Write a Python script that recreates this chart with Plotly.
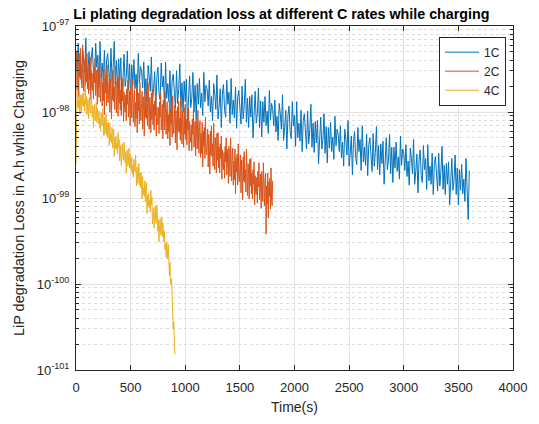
import plotly.graph_objects as go

# Sampling grids (seconds)
time_1c = list(range(0, 3601, 10))
time_2c = list(range(0, 1801, 5))
time_4c = list(range(0, 906, 5))

# Li plating loss, stored as log10 of the loss in A.h
log_loss_1c = [
    -97.30, -97.50, -97.20, -97.57, -97.39, -97.67, -97.24, -97.36, -97.54, -97.14,
    -97.65, -97.50, -97.30, -97.75, -97.36, -97.25, -97.55, -97.63, -97.20, -97.48,
    -97.34, -97.70, -97.18, -97.60, -97.43, -97.64, -97.28, -97.76, -97.40, -97.32,
    -97.56, -97.70, -97.26, -97.64, -97.48, -97.18, -97.68, -97.40, -97.74, -97.38,
    -97.63, -97.37, -97.87, -97.49, -97.33, -97.70, -97.59, -97.29, -97.75, -97.44,
    -97.86, -97.45, -97.69, -97.39, -97.73, -97.56, -97.82, -97.32, -97.66, -97.47,
    -97.52, -97.72, -97.42, -97.79, -97.61, -97.89, -97.46, -97.58, -97.76, -97.36,
    -97.88, -97.73, -97.53, -97.98, -97.59, -97.48, -97.78, -97.86, -97.43, -97.71,
    -97.58, -97.94, -97.42, -97.84, -97.67, -97.88, -97.52, -98.00, -97.64, -97.56,
    -97.82, -97.96, -97.52, -97.90, -97.74, -97.44, -97.94, -97.66, -98.00, -97.64,
    -97.88, -97.62, -98.12, -97.74, -97.58, -97.95, -97.84, -97.54, -98.00, -97.69,
    -98.08, -97.67, -97.91, -97.61, -97.95, -97.78, -98.04, -97.54, -97.88, -97.69,
    -97.73, -97.93, -97.63, -98.00, -97.82, -98.10, -97.67, -97.79, -97.97, -97.57,
    -98.08, -97.93, -97.73, -98.18, -97.79, -97.68, -97.98, -98.06, -97.63, -97.91,
    -97.77, -98.13, -97.61, -98.03, -97.86, -98.07, -97.71, -98.19, -97.83, -97.75,
    -98.00, -98.14, -97.70, -98.08, -97.92, -97.62, -98.12, -97.84, -98.18, -97.82,
    -98.06, -97.80, -98.30, -97.92, -97.76, -98.13, -98.02, -97.72, -98.18, -97.87,
    -98.29, -97.88, -98.12, -97.82, -98.16, -97.99, -98.25, -97.75, -98.09, -97.90,
    -97.96, -98.16, -97.86, -98.23, -98.05, -98.33, -97.90, -98.02, -98.20, -97.80,
    -98.33, -98.18, -97.98, -98.43, -98.04, -97.93, -98.23, -98.31, -97.88, -98.16,
    -98.04, -98.40, -97.88, -98.30, -98.13, -98.34, -97.98, -98.46, -98.10, -98.02,
    -98.29, -98.43, -97.99, -98.37, -98.21, -97.91, -98.41, -98.13, -98.47, -98.11,
    -98.36, -98.10, -98.60, -98.22, -98.06, -98.43, -98.32, -98.02, -98.48, -98.17,
    -98.59, -98.18, -98.42, -98.12, -98.46, -98.29, -98.55, -98.05, -98.39, -98.20,
    -98.26, -98.46, -98.16, -98.53, -98.35, -98.63, -98.20, -98.32, -98.50, -98.10,
    -98.63, -98.48, -98.28, -98.73, -98.34, -98.23, -98.53, -98.61, -98.18, -98.46,
    -98.32, -98.68, -98.16, -98.58, -98.41, -98.62, -98.26, -98.74, -98.38, -98.30,
    -98.55, -98.69, -98.25, -98.63, -98.47, -98.17, -98.67, -98.39, -98.73, -98.37,
    -98.60, -98.34, -98.84, -98.46, -98.30, -98.67, -98.56, -98.26, -98.72, -98.41,
    -98.82, -98.41, -98.65, -98.35, -98.69, -98.52, -98.78, -98.28, -98.62, -98.43,
    -98.48, -98.68, -98.38, -98.75, -98.57, -98.85, -98.42, -98.54, -98.72, -98.32,
    -98.84, -98.69, -98.49, -98.94, -98.55, -98.44, -98.74, -98.82, -98.39, -98.67,
    -98.54, -98.90, -98.38, -98.80, -98.63, -98.84, -98.48, -98.96, -98.60, -98.52,
    -98.78, -98.92, -98.48, -98.86, -98.70, -98.40, -98.90, -98.62, -98.96, -98.60,
    -98.84, -98.58, -99.08, -98.70, -98.54, -98.91, -98.80, -98.50, -98.96, -98.65,
    -99.08, -98.67, -98.91, -98.61, -98.95, -98.78, -99.04, -98.54, -98.88, -99.25,
    -98.68,
]

log_loss_2c = [
    -97.44, -97.30, -97.74, -97.36, -97.52, -97.82, -97.32, -97.60, -97.26, -97.62,
    -97.46, -97.72, -97.22, -97.60, -97.76, -97.39, -97.50, -97.80, -97.34, -97.65,
    -97.32, -97.73, -97.49, -97.79, -97.45, -97.62, -97.36, -97.86, -97.52, -97.71,
    -97.75, -97.55, -97.85, -97.48, -97.66, -97.38, -97.81, -97.69, -97.51, -97.91,
    -97.48, -97.63, -97.83, -97.38, -97.77, -97.88, -97.58, -97.50, -97.93, -97.65,
    -97.87, -97.51, -98.03, -97.61, -97.78, -97.57, -97.93, -97.45, -97.81, -97.89,
    -97.70, -97.56, -98.00, -97.62, -97.78, -98.08, -97.58, -97.86, -97.52, -97.88,
    -97.71, -97.97, -97.47, -97.85, -98.01, -97.64, -97.75, -98.05, -97.59, -97.90,
    -97.57, -97.98, -97.74, -98.04, -97.70, -97.87, -97.61, -98.11, -97.77, -97.96,
    -98.00, -97.80, -98.10, -97.73, -97.91, -97.63, -98.06, -97.94, -97.76, -98.16,
    -97.72, -97.87, -98.07, -97.62, -98.01, -98.12, -97.82, -97.74, -98.17, -97.89,
    -98.08, -97.72, -98.24, -97.82, -97.99, -97.78, -98.14, -97.66, -98.02, -98.10,
    -97.90, -97.76, -98.20, -97.82, -97.98, -98.28, -97.78, -98.06, -97.72, -98.08,
    -97.90, -98.16, -97.66, -98.04, -98.20, -97.83, -97.94, -98.24, -97.78, -98.09,
    -97.74, -98.15, -97.91, -98.21, -97.87, -98.04, -97.78, -98.28, -97.94, -98.13,
    -98.15, -97.95, -98.25, -97.88, -98.06, -97.78, -98.21, -98.09, -97.91, -98.31,
    -97.86, -98.01, -98.21, -97.76, -98.15, -98.26, -97.96, -97.88, -98.31, -98.03,
    -98.23, -97.87, -98.39, -97.97, -98.14, -97.93, -98.29, -97.81, -98.17, -98.25,
    -98.06, -97.92, -98.36, -97.98, -98.14, -98.44, -97.94, -98.22, -97.88, -98.24,
    -98.07, -98.33, -97.83, -98.21, -98.37, -98.00, -98.11, -98.41, -97.95, -98.26,
    -97.91, -98.32, -98.08, -98.38, -98.04, -98.21, -97.95, -98.45, -98.11, -98.30,
    -98.35, -98.15, -98.45, -98.08, -98.26, -97.98, -98.41, -98.29, -98.11, -98.51,
    -98.08, -98.23, -98.43, -97.98, -98.37, -98.48, -98.18, -98.10, -98.53, -98.25,
    -98.48, -98.12, -98.64, -98.22, -98.39, -98.18, -98.54, -98.06, -98.42, -98.50,
    -98.34, -98.20, -98.64, -98.26, -98.42, -98.72, -98.22, -98.50, -98.16, -98.52,
    -98.37, -98.63, -98.13, -98.51, -98.67, -98.30, -98.41, -98.71, -98.25, -98.56,
    -98.24, -98.65, -98.41, -98.71, -98.37, -98.54, -98.28, -98.78, -98.44, -98.63,
    -98.67, -98.47, -98.77, -98.40, -98.58, -98.30, -98.73, -98.61, -98.43, -98.83,
    -98.40, -98.55, -98.75, -98.30, -98.69, -98.80, -98.50, -98.42, -98.85, -98.57,
    -98.79, -98.43, -98.95, -98.53, -98.70, -98.49, -98.85, -98.37, -98.73, -98.81,
    -98.64, -98.50, -98.94, -98.56, -98.72, -99.02, -98.52, -98.80, -98.46, -98.82,
    -98.67, -98.93, -98.43, -98.81, -98.97, -98.60, -98.71, -99.01, -98.55, -98.86,
    -98.54, -98.95, -98.71, -99.01, -98.67, -98.84, -98.58, -99.08, -98.74, -98.93,
    -98.96, -98.76, -99.06, -98.69, -98.87, -98.59, -99.02, -98.90, -98.72, -99.12,
    -98.69, -98.84, -99.04, -98.59, -98.98, -99.09, -98.79, -98.71, -99.42, -98.86,
    -99.07, -98.71, -99.23, -98.81, -98.98, -98.77, -99.13, -98.65, -99.01, -99.09,
    -98.80,
]

log_loss_4c = [
    -98.60, -97.99, -97.73, -97.94, -97.86, -97.96, -97.78, -98.02, -97.84, -97.80,
    -98.01, -97.80, -97.92, -97.78, -97.94, -97.86, -97.99, -97.68, -97.91, -97.82,
    -98.03, -97.95, -97.85, -98.08, -97.89, -97.83, -97.98, -98.02, -97.81, -97.95,
    -98.06, -97.93, -98.18, -97.99, -97.91, -98.10, -98.04, -97.89, -98.12, -97.96,
    -98.04, -98.14, -97.99, -98.18, -98.08, -98.22, -98.01, -98.07, -98.16, -97.96,
    -98.21, -98.28, -98.06, -98.25, -98.17, -98.02, -98.27, -98.13, -98.30, -98.12,
    -98.21, -98.39, -98.13, -98.34, -98.26, -98.36, -98.18, -98.42, -98.24, -98.20,
    -98.51, -98.30, -98.42, -98.28, -98.44, -98.36, -98.49, -98.24, -98.41, -98.32,
    -98.57, -98.49, -98.39, -98.62, -98.43, -98.37, -98.52, -98.56, -98.35, -98.49,
    -98.59, -98.46, -98.71, -98.52, -98.44, -98.63, -98.57, -98.42, -98.65, -98.49,
    -98.58, -98.68, -98.53, -98.72, -98.62, -98.76, -98.55, -98.61, -98.70, -98.50,
    -98.79, -98.86, -98.64, -98.83, -98.75, -98.60, -98.85, -98.71, -98.88, -98.70,
    -98.83, -99.01, -98.75, -98.96, -98.88, -98.98, -98.80, -99.04, -98.86, -98.82,
    -99.18, -98.97, -99.09, -98.95, -99.11, -99.03, -99.16, -98.91, -99.08, -98.99,
    -99.30, -99.22, -99.12, -99.35, -99.16, -99.10, -99.25, -99.29, -99.08, -99.22,
    -99.39, -99.26, -99.51, -99.32, -99.24, -99.43, -99.37, -99.22, -99.45, -99.29,
    -99.39, -99.51, -99.39, -99.60, -99.53, -99.69, -99.51, -99.59, -99.71, -99.54,
    -99.78, -99.90, -99.75, -100.00, -99.99, -99.94, -100.29, -100.25, -100.52, -100.44,
    -100.62, -100.82,
]

series_names = ["1C", "2C", "4C"]
series_colors = ["#0072BD", "#D95319", "#EDB120"]

# Axis ticks
x_ticks = [0, 500, 1000, 1500, 2000, 2500, 3000, 3500, 4000]
y_decades = [-101, -100, -99, -98, -97]
y_tick_labels = [f"10<sup>{d}</sup>" for d in y_decades]

font_family = "Arial, Liberation Sans, Helvetica, sans-serif"
axis_color = "#262626"

fig = go.Figure()
for name, color, t, logs in zip(
    series_names,
    series_colors,
    [time_1c, time_2c, time_4c],
    [log_loss_1c, log_loss_2c, log_loss_4c],
):
    fig.add_trace(go.Scatter(
        x=t,
        y=[10 ** v for v in logs],
        mode="lines",
        name=name,
        line=dict(color=color, width=1),
    ))

minor_vals = [k * 10.0 ** d for d in y_decades[:-1] for k in range(2, 10)]

fig.update_layout(
    width=539,
    height=424,
    margin=dict(l=76, r=23, t=26, b=48),
    paper_bgcolor="white",
    plot_bgcolor="white",
    font=dict(family=font_family, size=13, color=axis_color),
    title=dict(
        text="<b>Li plating degradation loss at different C rates while charging</b>",
        x=0.47,
        xref="paper",
        xanchor="center",
        y=0.967,
        yref="container",
        yanchor="middle",
        font=dict(size=14.3, color="black", family=font_family),
    ),
    legend=dict(
        x=0.984,
        y=0.969,
        xanchor="right",
        yanchor="top",
        bgcolor="white",
        bordercolor=axis_color,
        borderwidth=1,
        font=dict(size=12, color=axis_color),
        itemwidth=34,
        tracegroupgap=0,
    ),
    showlegend=True,
)

fig.update_xaxes(
    range=[0, 4000],
    tickvals=x_ticks,
    ticktext=[str(v) for v in x_ticks],
    title=dict(text="Time(s)", font=dict(size=14, color=axis_color), standoff=8),
    showline=True,
    linecolor=axis_color,
    linewidth=1,
    mirror="ticks",
    ticks="inside",
    ticklen=5,
    tickcolor=axis_color,
    ticklabelstandoff=5,
    showgrid=True,
    gridcolor="#e3e3e3",
    gridwidth=1,
    zeroline=False,
    tickfont=dict(size=13, color=axis_color),
)

fig.update_yaxes(
    type="log",
    range=[-101, -97],
    tickvals=[10.0 ** d for d in y_decades],
    ticktext=y_tick_labels,
    title=dict(text="LiP degradation Loss in A.h while Charging", font=dict(size=14.5, color=axis_color), standoff=8),
    showline=True,
    linecolor=axis_color,
    linewidth=1,
    mirror="ticks",
    ticks="inside",
    ticklen=5,
    tickcolor=axis_color,
    ticklabelstandoff=3,
    showgrid=True,
    gridcolor="#e3e3e3",
    gridwidth=1,
    zeroline=False,
    tickfont=dict(size=13, color=axis_color),
    minor=dict(
        tickmode="array",
        tickvals=minor_vals,
        ticks="inside",
        ticklen=3,
        tickcolor=axis_color,
        showgrid=True,
        gridcolor="#dcdcdc",
        griddash="dot",
        gridwidth=1,
    ),
)

fig.write_html("out.html")
